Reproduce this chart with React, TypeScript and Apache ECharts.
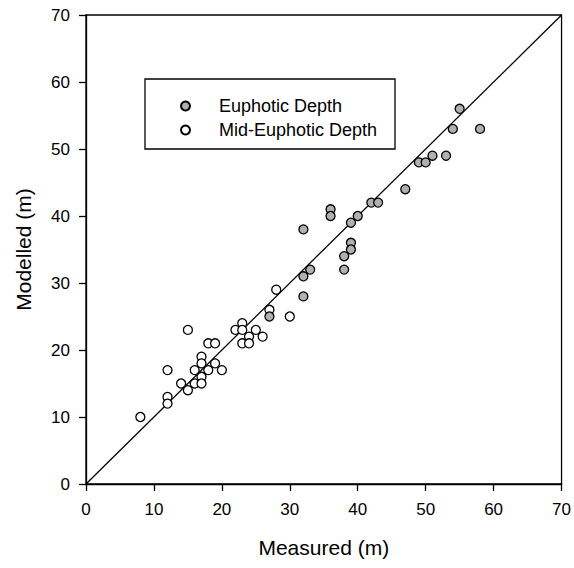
import React, { useEffect, useRef } from "react";
import * as echarts from "echarts";

const euphoticX = [55, 54, 58, 49, 50, 51, 53, 47, 42, 43, 40, 39, 36, 36, 32, 39, 39, 38, 38, 33, 32, 32, 27];
const euphoticY = [56, 53, 53, 48, 48, 49, 49, 44, 42, 42, 40, 39, 41, 40, 38, 36, 35, 34, 32, 32, 31, 28, 25];

const midX = [28, 27, 30, 23, 22, 23, 25, 15, 24, 26, 23, 24, 18, 19, 17, 17, 19, 16, 18, 20, 12, 17, 16, 17, 14, 15, 12, 12, 8];
const midY = [29, 26, 25, 24, 23, 23, 23, 23, 22, 22, 21, 21, 21, 21, 19, 18, 18, 17, 17, 17, 17, 16, 15, 15, 15, 14, 13, 12, 10];

const lineX = [0, 70];
const lineY = [0, 70];

const FONT = "Liberation Sans, Arial, sans-serif";

export default function App() {
  const ref = useRef<HTMLDivElement>(null);
  useEffect(() => {
    if (!ref.current) return;
    const chart = echarts.init(ref.current, null, { renderer: "svg" });
    const axisCommon = {
      type: "value" as const,
      min: 0,
      max: 70,
      interval: 10,
      nameLocation: "middle" as const,
      nameTextStyle: { fontFamily: FONT, fontSize: 21, color: "#000" },
      axisLine: { show: true, lineStyle: { color: "#000", width: 1.3 } },
      axisTick: { show: true, inside: false, length: 7, lineStyle: { color: "#000", width: 1.3 } },
      splitLine: { show: false },
    };
    chart.setOption({
      animation: false,
      backgroundColor: "#fff",
      grid: { left: 86, right: 10, top: 15, bottom: 84, show: true, borderColor: "#000", borderWidth: 1.3, backgroundColor: "transparent" },
      xAxis: {
        ...axisCommon,
        name: "Measured (m)",
        nameGap: 53,
        axisLabel: { fontFamily: FONT, fontSize: 17, color: "#000", margin: 17 },
      },
      yAxis: {
        ...axisCommon,
        name: "Modelled (m)",
        nameGap: 52,
        axisLabel: { fontFamily: FONT, fontSize: 17, color: "#000", margin: 16 },
      },
      legend: {
        orient: "vertical",
        left: 175,
        top: 92,
        itemWidth: 9,
        itemHeight: 9,
        itemGap: 6,
        data: [
          { name: "Euphotic Depth", icon: "circle" },
          { name: "Mid-Euphotic Depth", icon: "circle" },
        ],
        textStyle: { fontFamily: FONT, fontSize: 18, color: "#000", padding: [0, 0, 0, 24] },
      },
      graphic: [
        {
          type: "rect",
          shape: { x: 145, y: 79, width: 250, height: 70 },
          style: { fill: "none", stroke: "#000", lineWidth: 1.3 },
          z: 10,
        },
      ],
      series: [
        {
          type: "line",
          data: lineX.map((x, i) => [x, lineY[i]]),
          symbol: "none",
          lineStyle: { color: "#000", width: 1.3 },
          silent: true,
          z: 1,
        },
        {
          name: "Euphotic Depth",
          type: "scatter",
          symbol: "circle",
          symbolSize: 9,
          data: euphoticX.map((x, i) => [x, euphoticY[i]]),
          itemStyle: { color: "#b0b0b0", borderColor: "#000", borderWidth: 1.3, opacity: 1 },
          z: 3,
        },
        {
          name: "Mid-Euphotic Depth",
          type: "scatter",
          symbol: "circle",
          symbolSize: 9,
          data: midX.map((x, i) => [x, midY[i]]),
          itemStyle: { color: "#fff", borderColor: "#000", borderWidth: 1.3, opacity: 1 },
          z: 2,
        },
      ],
    });
    return () => chart.dispose();
  }, []);
  return <div ref={ref} style={{ width: 574, height: 568, position: "absolute", left: 0, top: 0 }} />;
}
